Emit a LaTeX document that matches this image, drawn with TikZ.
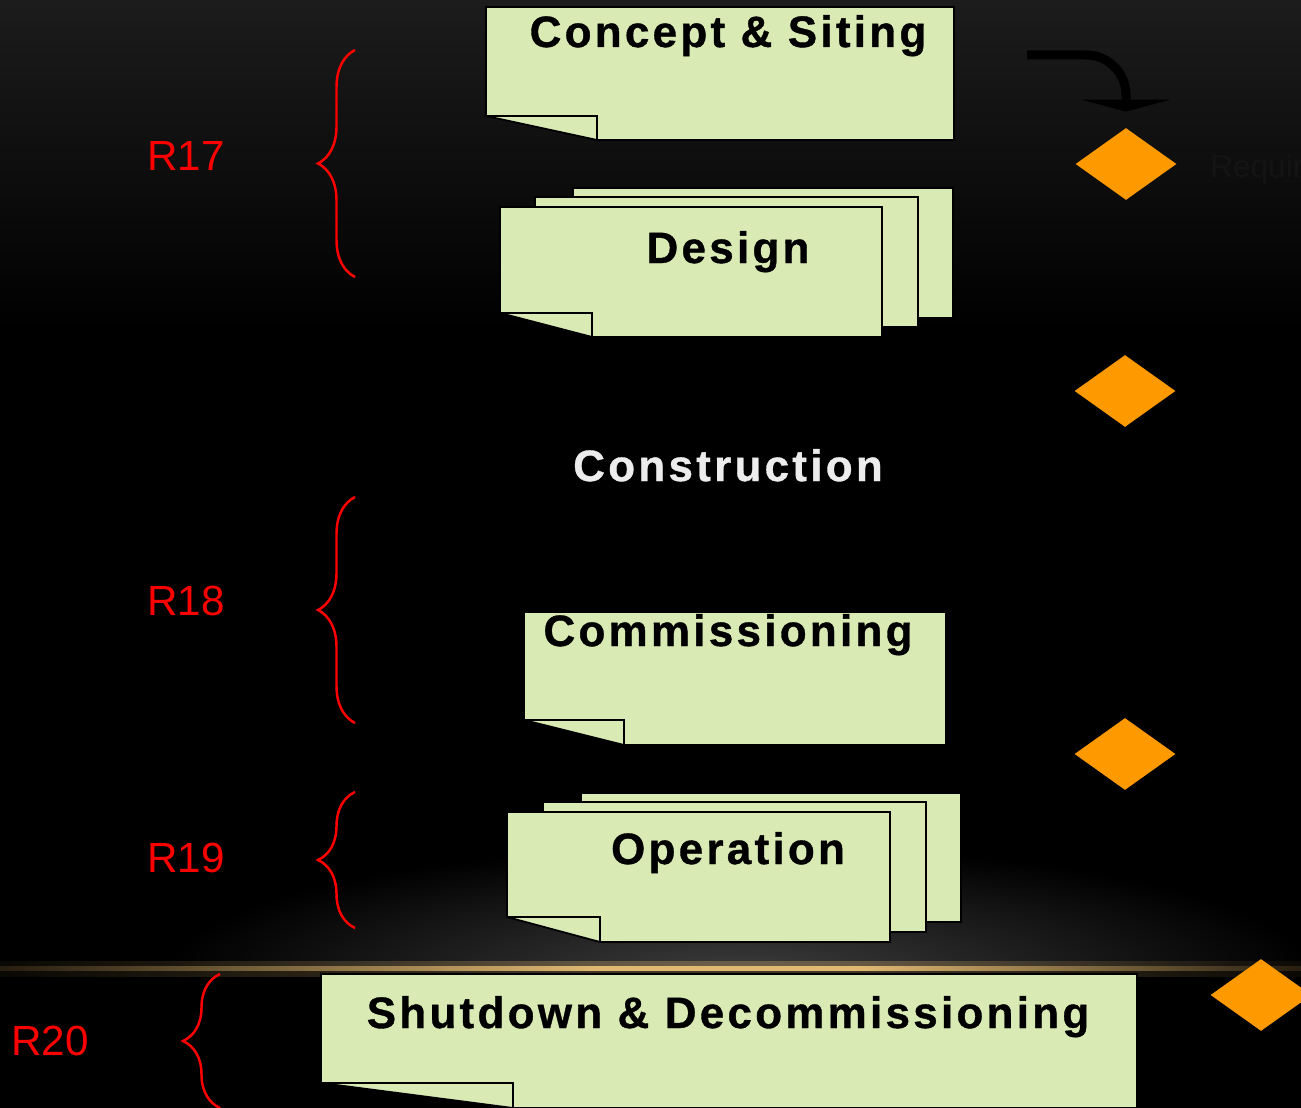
\documentclass[tikz,border=0pt]{standalone}
\usepackage{fontspec}
\setmainfont{Liberation Sans}
\newfontfamily\phasefont[LetterSpace=7.5, FakeBold=0.8]{Liberation Sans}
\usetikzlibrary{shapes.geometric,arrows.meta,positioning,calc,decorations.pathreplacing}

\definecolor{pagegreen}{RGB}{217,234,180}
\definecolor{gateorange}{RGB}{255,153,0}
\definecolor{glowcore}{RGB}{225,185,115}
\definecolor{glowedge}{RGB}{38,30,16}
\definecolor{hintgray}{RGB}{20,20,20}
\definecolor{buildwhite}{RGB}{236,236,236}

\pgfdeclarelayer{backdrop}
\pgfdeclarelayer{pages}
\pgfsetlayers{backdrop,pages,main}

\pgfdeclarehorizontalshading{rimglow}{100bp}{color(0bp)=(glowedge); color(25bp)=(glowedge);
  color(48bp)=(glowcore); color(58bp)=(glowcore); color(75bp)=(glowedge); color(100bp)=(glowedge)}

% sheet behind a stack, kept out of the turned corner of the front sheet:
% sheet, front sheet, fold width, fold height
\newcommand{\flatpage}[4]{%
  \begin{pgfonlayer}{pages}
    \begin{scope}[even odd rule]
      \clip (0,0) rectangle (1301,1108)
        ([yshift=#4]#2.south west) -- (#2.south west) -- ([xshift=#3]#2.south west) -- cycle;
      \draw[page] (#1.north west) rectangle (#1.south east);
    \end{scope}
  \end{pgfonlayer}}
% sheet with the lower left corner turned up: node, fold width, fold height
\newcommand{\foldpage}[3]{%
  \begin{pgfonlayer}{pages}
    \draw[page] (#1.north west) -- (#1.north east) -- (#1.south east)
      -- ([xshift=#2]#1.south west) -- ([yshift=#3]#1.south west) -- cycle;
    \draw[page, fill=none] ([yshift=#3]#1.south west) -| ([xshift=#2]#1.south west);
  \end{pgfonlayer}}

\tikzset{
  page/.style={draw=black, line width=1pt, fill=pagegreen},
  sheet/.style={inner sep=0pt, outer sep=0pt},
  phase/.style={font=\phasefont\bfseries\fontsize{25}{29}\selectfont, anchor=base},
  gate/.style={diamond, fill=gateorange, inner sep=0pt, minimum width=2.02cm, minimum height=1.44cm},
  rbrace/.style={draw=red, line width=1.4pt, decorate, decoration={brace, amplitude=0.74cm}},
  rlabel/.style={text=red, font=\fontsize{24}{28}\selectfont},
  entryarrow/.style={draw=black, line width=0.18cm, rounded corners=0.8cm,
    -{Triangle[width=1.76cm, length=0.24cm]}, shorten >=0.32cm},
}

\begin{document}
\begin{tikzpicture}[x=0.02cm, y=-0.02cm]
  \useasboundingbox (0,0) rectangle (1301,1108);

  % backdrop: dark top, glow and rim light near the bottom
  \begin{pgfonlayer}{backdrop}
    \fill[black] (0,0) rectangle (1301,1108);
    \shade[top color=black!89, bottom color=black] (0,0) rectangle (1301,330);
    \begin{scope}
      \clip (0,820) rectangle (1301,966);
      \shade[inner color=black!76, outer color=black] (740,975) ellipse [x radius=11.5cm, y radius=2.6cm];
    \end{scope}
    \shade[shading=rimglow, opacity=0.3] (0,961) rectangle (1301,976);
    \shade[shading=rimglow] (0,966.5) rectangle (1301,970);
  \end{pgfonlayer}

  % Concept & Siting
  \node[sheet, minimum width=9.36cm, minimum height=2.66cm] (concept) at (720,73.5) {};
  \foldpage{concept}{2.22cm}{0.48cm}
  \node[phase] (conceptname) at (728,47) {Concept \& Siting};

  % Design (stack of three)
  \node[sheet, minimum width=7.6cm, minimum height=2.6cm] (designback) at (763,253) {};
  \node[sheet, minimum width=7.66cm, minimum height=2.6cm] (designmid) at (726.5,262) {};
  \node[sheet, minimum width=7.64cm, minimum height=2.6cm] (design) at (691,272) {};
  \flatpage{designback}{design}{1.84cm}{0.48cm}
  \flatpage{designmid}{design}{1.84cm}{0.48cm}
  \foldpage{design}{1.84cm}{0.48cm}
  \node[phase] (designname) at (728,263) {Design};

  % Construction
  \node[phase, text=buildwhite] (construction) at (728,481) {Construction};

  % Commissioning
  \node[sheet, minimum width=8.44cm, minimum height=2.66cm] (commissioning) at (735,678.5) {};
  \foldpage{commissioning}{2.0cm}{0.5cm}
  \node[phase] (commname) at (728,646) {Commissioning};

  % Operation (stack of three)
  \node[sheet, minimum width=7.6cm, minimum height=2.58cm] (operationback) at (771,857.5) {};
  \node[sheet, minimum width=7.66cm, minimum height=2.6cm] (operationmid) at (734.5,867) {};
  \node[sheet, minimum width=7.66cm, minimum height=2.6cm] (operation) at (698.5,877) {};
  \flatpage{operationback}{operation}{1.86cm}{0.5cm}
  \flatpage{operationmid}{operation}{1.86cm}{0.5cm}
  \foldpage{operation}{1.86cm}{0.5cm}
  \node[phase] (operationname) at (728,864) {Operation};

  % Shutdown & Decommissioning
  \node[sheet, minimum width=16.32cm, minimum height=2.68cm] (shutdown) at (729,1041) {};
  \foldpage{shutdown}{3.84cm}{0.5cm}
  \node[phase] (shutdownname) at (728,1028) {Shutdown \& Decommissioning};

  % review gates
  \node[gate] (startgate) at (1126,164) {};
  \node[gate] (designgate) at (1125,391) {};
  \node[gate] (commgate) at (1125,754) {};
  \node[gate] (shutgate) at (1261,995) {};
  \node[text=hintgray, font=\fontsize{18}{22}\selectfont, anchor=base west] (startnote) at (1204,178) {Requirements};

  \coordinate (entry) at (1027,55);
  \draw[entryarrow] (entry) -| (startgate.north);

  % requirement braces
  \draw[rbrace] (355,277) -- (355,50);
  \draw[rbrace] (355,723) -- (355,497);
  \draw[rbrace] (355,928) -- (355,792);
  \draw[rbrace] (220,1108) -- (220,974);
  \node[rlabel] (r17) at (186,156) {R17};
  \node[rlabel] (r18) at (186,601) {R18};
  \node[rlabel] (r19) at (186,858) {R19};
  \node[rlabel] (r20) at (50,1041) {R20};
\end{tikzpicture}
\end{document}
